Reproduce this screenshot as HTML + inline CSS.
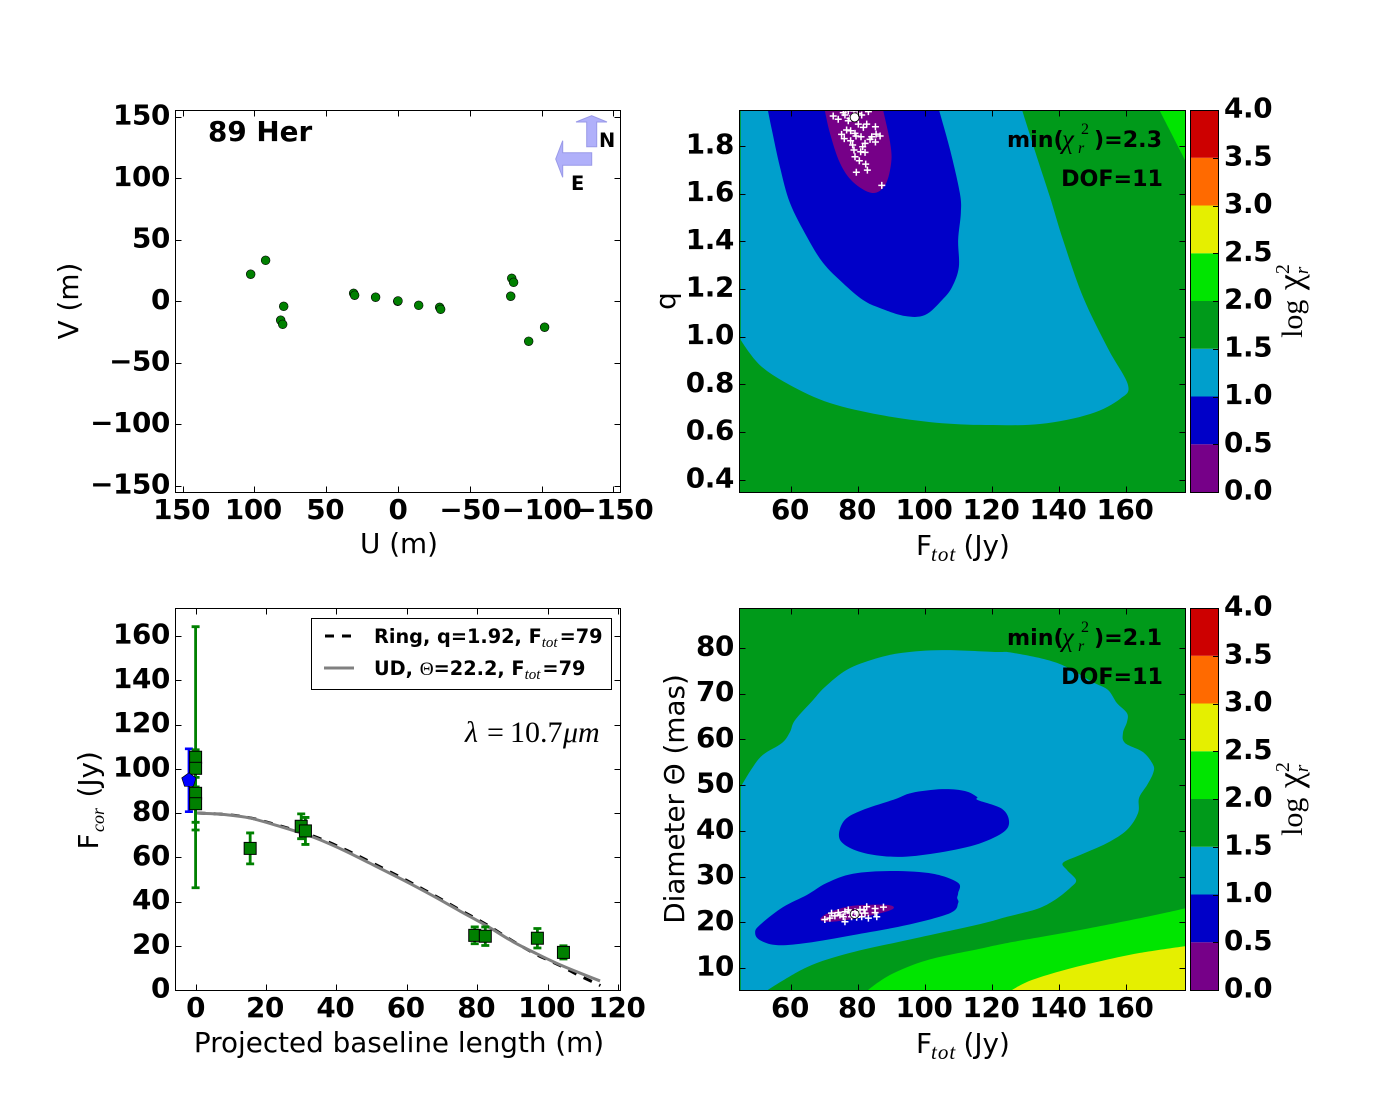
<!DOCTYPE html>
<html lang="en">
<head>
<meta charset="utf-8">
<title>89 Her interferometry chart</title>
<style>
html,body{margin:0;padding:0;background:#fff;}
svg{display:block;}
text{font-family:"DejaVu Sans","Liberation Sans",sans-serif;fill:#000;}
.tick{font-weight:bold;font-size:27.8px;letter-spacing:-0.35px;}
.lab{font-size:27.8px;}
.sub{font-family:"Liberation Serif","DejaVu Serif",serif;font-style:italic;font-size:21px;letter-spacing:1px;}
.subc{font-family:"Liberation Serif","DejaVu Serif",serif;font-style:italic;font-size:18px;}
.ann{font-weight:bold;font-size:22.2px;}
.serif{font-family:"Liberation Serif","DejaVu Serif",serif;}
.leg{font-weight:bold;font-size:19.3px;}
.legsub{font-family:"Liberation Serif","DejaVu Serif",serif;font-style:italic;font-weight:normal;font-size:15px;}
</style>
</head>
<body>
<svg xmlns="http://www.w3.org/2000/svg" width="1400" height="1100" viewBox="0 0 1400 1100">
<defs>
<clipPath id="clip-uv"><rect x="176" y="111" width="444" height="381"/></clipPath>
<clipPath id="clip-q"><rect x="740" y="111" width="445" height="381"/></clipPath>
<clipPath id="clip-flux"><rect x="176" y="609" width="444" height="381"/></clipPath>
<clipPath id="clip-d"><rect x="740" y="609" width="445" height="381"/></clipPath>
</defs>
<rect x="0" y="0" width="1400" height="1100" fill="#fff"/>

<!-- UV panel -->
<g>
  <rect x="175.5" y="110.5" width="445" height="382" fill="#fff"/>
  <g id="uv-marks" clip-path="url(#clip-uv)"></g>
  <rect x="175.5" y="110.5" width="445" height="382" fill="none" stroke="#000" stroke-width="1"/>
  <g id="uv-ticks"></g>
  <text x="208" y="141" class="tick" style="letter-spacing:0">89 Her</text>
  <polygon points="591.7,115.7 607,122 596.7,122 596.7,146.7 586.7,146.7 586.7,122 576,122" fill="#b0b0fa" stroke="#9a9ae8" stroke-width="1"/>
  <polygon points="555.7,159 562.7,140.7 562.7,152.7 591.7,152.7 591.7,165.3 562.7,165.3 562.7,177.3" fill="#b0b0fa" stroke="#9a9ae8" stroke-width="1"/>
  <text x="599" y="147" font-weight="bold" font-size="19.4">N</text>
  <text x="571" y="190" font-weight="bold" font-size="19.4">E</text>
  <text x="399" y="553" text-anchor="middle" class="lab">U (m)</text>
  <text transform="translate(78,301) rotate(-90)" text-anchor="middle" class="lab">V (m)</text>
</g>

<!-- Ring chi2 map -->
<g>
  <rect x="740" y="111" width="445" height="381" fill="#009a1a"/>
  <g id="q-marks" clip-path="url(#clip-q)"></g>
  <rect x="739.5" y="110.5" width="446" height="382" fill="none" stroke="#000" stroke-width="1"/>
  <g id="q-ticks"></g>
  <g id="cb1"></g>
  <g>
    <text x="1007" y="147" class="ann">min(</text>
    <text x="1062" y="148" class="serif" font-style="italic" font-size="27">χ</text>
    <text x="1078" y="153" class="serif" font-style="italic" font-size="16">r</text>
    <text x="1081" y="134" class="serif" font-size="16">2</text>
    <text x="1094" y="147" class="ann">)=2.3</text>
  </g>
  <text x="1163" y="186" text-anchor="end" class="ann">DOF=11</text>
  <text x="916" y="555" class="lab">F<tspan x="931" y="561" class="sub">tot</tspan><tspan x="963.5" y="555">(Jy)</tspan></text>
  <text transform="translate(675,301) rotate(-90)" text-anchor="middle" class="lab">q</text>
  <text transform="translate(1302,301) rotate(-90)" text-anchor="middle" class="serif" font-size="30">log <tspan font-size="36" dx="2">χ</tspan><tspan font-size="20" dy="-13">2</tspan><tspan font-size="19" font-style="italic" dy="19" dx="-10">r</tspan></text>
</g>

<!-- Flux panel -->
<g>
  <rect x="175.5" y="608.5" width="445" height="382" fill="#fff"/>
  <g id="flux-marks" clip-path="url(#clip-flux)"></g>
  <rect x="175.5" y="608.5" width="445" height="382" fill="none" stroke="#000" stroke-width="1"/>
  <g id="flux-ticks"></g>
  <g>
    <rect x="311.5" y="618.5" width="300" height="71" fill="#fff" stroke="#000" stroke-width="1"/>
    <line x1="325" y1="636" x2="351" y2="636" stroke="#000" stroke-width="3" stroke-dasharray="9 8"/>
    <line x1="324" y1="668" x2="354" y2="668" stroke="#808080" stroke-width="3"/>
    <text x="374" y="643" class="leg">Ring, q=1.92, F<tspan class="legsub" dy="4">tot</tspan><tspan dy="-4" dx="2">=79</tspan></text>
    <text x="374" y="675" class="leg">UD, <tspan font-weight="normal" class="serif">Θ</tspan>=22.2, F<tspan class="legsub" dy="4">tot</tspan><tspan dy="-4" dx="2">=79</tspan></text>
  </g>
  <text y="742" class="serif" font-size="30"><tspan x="465" font-style="italic">λ</tspan><tspan x="487">=</tspan><tspan x="510">10.7</tspan><tspan x="563" font-style="italic">μm</tspan></text>
  <text x="399" y="1052" text-anchor="middle" class="lab">Projected baseline length (m)</text>
  <text transform="translate(98,800) rotate(-90)" class="lab"><tspan x="-49.5" y="0">F</tspan><tspan x="-32" y="6" class="subc">cor</tspan><tspan x="2.5" y="0">(Jy)</tspan></text>
</g>

<!-- UD chi2 map -->
<g>
  <rect x="740" y="609" width="445" height="381" fill="#009a1a"/>
  <g id="d-marks" clip-path="url(#clip-d)"></g>
  <rect x="739.5" y="608.5" width="446" height="382" fill="none" stroke="#000" stroke-width="1"/>
  <g id="d-ticks"></g>
  <g id="cb2"></g>
  <g>
    <text x="1007" y="645" class="ann">min(</text>
    <text x="1062" y="646" class="serif" font-style="italic" font-size="27">χ</text>
    <text x="1078" y="651" class="serif" font-style="italic" font-size="16">r</text>
    <text x="1081" y="632" class="serif" font-size="16">2</text>
    <text x="1094" y="645" class="ann">)=2.1</text>
  </g>
  <text x="1163" y="684" text-anchor="end" class="ann">DOF=11</text>
  <text x="916" y="1053" class="lab">F<tspan x="931" y="1059" class="sub">tot</tspan><tspan x="963.5" y="1053">(Jy)</tspan></text>
  <text transform="translate(684,799) rotate(-90)" text-anchor="middle" class="lab">Diameter Θ (mas)</text>
  <text transform="translate(1302,799) rotate(-90)" text-anchor="middle" class="serif" font-size="30">log <tspan font-size="36" dx="2">χ</tspan><tspan font-size="20" dy="-13">2</tspan><tspan font-size="19" font-style="italic" dy="19" dx="-10">r</tspan></text>
</g>
</svg>

<script>
// ---------- data ----------
const uvU = [102.6,92.2,79.6,81.7,80.3,30.9,30.2,15.6,0.2,0,-14.4,-29,-29.7,-79.2,-80.5,-78.5,-91,-102.1];
const uvV = [22,33.3,-4.1,-15.4,-18.7,6.5,4.9,3.3,0,0.3,-3.3,-4.9,-6.5,18.7,15.4,4.1,-32.5,-21.1];
const uvTicksX = [150,100,50,0,-50,-100,-150];
const uvTicksY = [150,100,50,0,-50,-100,-150];

const fluxBaseline = [0,0,0,0,15.5,30,31.2,79.3,82.3,97.1,104.5];
const fluxValue = [105.2,100.2,88.9,84.2,64,74,71.9,24.7,24.3,23.4,17];
const fluxError = [59,8.4,13.1,11.9,7,5.6,6.1,3.8,4.2,4.4,3];
const totalBaseline = [-1.9];
const totalFlux = [94.8];
const totalError = [14.2];
const ringB = [0.3,8.8,15.5,24,33.4,41.9,49.5,60.1,67.5,75.1,82.8,90.2,97,100.1,104.4,108.6,112.9,115];
const ringF = [80,79.3,77.8,74.2,69.6,63.9,58,49.4,43,36.2,29.4,22,15.9,13.6,10.4,6.8,3.6,2];
const udB = [0.3,8.8,15.5,24,33.4,41.9,49.5,60.1,67.5,75.1,82.8,90.2,97,104.4,114.9];
const udF = [80,79.2,77.7,73.9,69.1,63.3,57.3,48.8,42.5,35.7,28.9,21.8,16.3,10.8,4.1];
const fluxTicksX = [0,20,40,60,80,100,120];
const fluxTicksY = [0,20,40,60,80,100,120,140,160];

const ftotTicks = [60,80,100,120,140,160];
const qTicks = [0.4,0.6,0.8,1.0,1.2,1.4,1.6,1.8];
const diamTicks = [10,20,30,40,50,60,70,80];

const colorLevels = [0,0.5,1,1.5,2,2.5,3,3.5,4];
const colorBands = ['#760088','#0000c8','#009fcc','#009a1a','#00e500','#e5ef00','#ff6a00','#cd0000'];

// plot limits of the two maps
const ftotLimits = [45,178];
const qLimits = [0.35,1.95];
const diamLimits = [5.2,88.7];

// contour outlines: [Ftot, q]
const qLevel1 = [[45,0.986],[50.7,0.881],[59.7,0.797],[71.6,0.722],[86.6,0.672],[101.5,0.642],[116.4,0.63],[134.3,0.634],[149.3,0.676],[158.2,0.739],[160.6,0.797],[154.6,0.951],[147.2,1.166],[141.2,1.406],[137.3,1.586],[133.4,1.754],[129,1.95],[45,1.95]];
const qLevel05 = [[53.1,1.95],[54.3,1.867],[56.7,1.712],[59.7,1.561],[64.8,1.418],[69.6,1.309],[75.5,1.225],[81.5,1.154],[86.6,1.12],[94,1.087],[100,1.091],[105.1,1.154],[108.1,1.209],[110.1,1.292],[109.9,1.406],[110.7,1.519],[110.4,1.603],[107.5,1.783],[104.2,1.95]];
const qLevel0 = [[70.1,1.95],[71.6,1.855],[74.6,1.729],[78.5,1.649],[84.2,1.603],[88.1,1.636],[89.9,1.729],[89.6,1.813],[87.5,1.95]];
const qLevel2 = [[170,1.95],[178,1.95],[178,1.73]];
const qSampleF = [72.6,74.1,75.6,76.1,77.1,77.6,78.8,81.1,83.1,80.1,81.6,82.6,85.2,76.6,77.8,79.1,79.4,75.1,75.9,77.8,80.9,84.1,85.4,86.6,85.2,83.6,82.1,81.4,78.4,78.8,82.1,80.8,79.1,80.4,82.3,82.8,79.5,87.1,77.1,80.1];
const qSampleQ = [1.926,1.912,1.94,1.93,1.906,1.916,1.947,1.93,1.944,1.892,1.878,1.892,1.881,1.867,1.864,1.853,1.842,1.849,1.831,1.822,1.839,1.839,1.85,1.842,1.817,1.828,1.811,1.797,1.804,1.783,1.773,1.776,1.755,1.738,1.724,1.699,1.69,1.635,1.948,1.937];
const qBest = [79,1.92];

// contour outlines: [Ftot, diameter]
const dLevel1 = [[45,49.6],[48.4,53.7],[51.6,56.6],[57.3,59.2],[59.7,61.6],[61.2,64.2],[66.6,68.6],[70.1,71.4],[76.7,75.2],[85.1,77.6],[93.1,78.9],[105.1,79.5],[120.9,79.1],[126.3,78.9],[139.4,76.7],[150.1,72.5],[154.6,70.8],[157.3,67.9],[160.3,65.7],[160.3,63.8],[159.1,61.4],[159.7,59.2],[165.1,57.2],[168.1,54.4],[168.1,52.6],[166.3,50],[163.9,47.2],[163.6,43.9],[160.3,40.2],[154.3,37.3],[146.3,34.7],[141.2,33],[142.4,31.4],[145.1,29.2],[143.3,27.5],[138.8,24.9],[133.4,22.9],[124.5,21.2],[116.4,19.6],[94.6,16.1],[77.6,13.3],[64.8,10.2],[53.1,5.2],[45,5.2]];
const dLevel2 = [[83,5.2],[89.6,8.5],[100.6,11.7],[116.4,14.2],[126.3,15.7],[146.3,18.3],[166.3,21.2],[178,23.1],[178,5.2]];
const dLevel25 = [[126,5.2],[131.3,7.2],[140.3,9.3],[151.3,11.3],[164.2,13.3],[178,14.8],[178,5.2]];
const dIslandUpper = [[74.3,39.1],[76.1,42.4],[81.2,44.5],[91,46.9],[96.1,48.3],[105.1,49.1],[111.9,48.7],[115.5,47.4],[115.8,46.7],[123,44.8],[125.1,41.9],[123,39.5],[114.9,36.9],[103,35.1],[91.9,34.3],[82.1,35.1],[76.1,36.9]];
const dIslandLower = [[49.3,17.7],[50.7,19.4],[57.6,23.3],[64.8,26],[70.7,28.6],[78.5,30.6],[90.4,31.2],[102.4,30.6],[109.9,28.6],[109.9,26.4],[109.6,25.3],[109.9,24.2],[107.5,22],[94.6,19.4],[78.5,17.2],[64.8,15.5],[55.8,15],[50.7,16.1]];
const dLevel0 = [[68.7,20.7],[71.6,22.2],[78.5,23.6],[88.7,23.8],[90.4,22.9],[84.5,21.6],[76.7,20.5],[70.7,20.1]];
const dSampleF = [70.1,72.1,73.1,74.6,76.1,76.1,78.1,80.1,81.1,82.6,83.1,85.1,85.6,87.6,81.8,79.1,71.6,74.1,77.6,79.6,82.1,85.1,77.1,80.6,75.6];
const dSampleD = [20.6,22,21.4,21.6,22.3,20.1,21.2,22,21.2,23.4,20.9,23,21.2,23.3,22.7,22.3,20.9,22.1,22,21.1,22,22.1,22.7,22.8,21.2];
const dBest = [79,21.8];

// ---------- axis functions ----------
const xU = u => 398 - u * 1.436;
const yV = v => 301.3 - v * 1.23;
const xB = b => 195.6 + b * 3.52;
const yF = f => 990 - f * 2.2125;
const xFtot = f => 791 + (f - 60) * 3.35;
const yQ = q => 146 + (1.8 - q) * 238.4;
const yD = d => 968 - (d - 10) * 4.574;
const yCb1 = c => 492 - c * 95.5;
const yCb2 = c => 990 - c * 95.5;

// ---------- helpers ----------
const NS = 'http://www.w3.org/2000/svg';
function make(tag, props, parent, text) {
  const n = document.createElementNS(NS, tag);
  for (const k in props) n.setAttribute(k, props[k]);
  if (text !== undefined) n.textContent = text;
  parent.appendChild(n);
  return n;
}
// Smooth path through data points; points on a plot limit keep a sharp corner.
function curvePath(pairs, fx, fy, closed, yLim) {
  const n = pairs.length;
  const P = pairs.map(p => [fx(p[0]), fy(p[1])]);
  const sharp = pairs.map(p => yLim && (p[0] <= ftotLimits[0] || p[0] >= ftotLimits[1] || p[1] <= yLim[0] || p[1] >= yLim[1]));
  const T = P.map((p, i) => {
    if (sharp[i]) return [0, 0];
    if (!closed && (i === 0 || i === n - 1)) return [0, 0];
    const a = P[(i - 1 + n) % n], b = P[(i + 1) % n];
    return [(b[0] - a[0]) / 6, (b[1] - a[1]) / 6];
  });
  let d = 'M' + P[0][0].toFixed(2) + ' ' + P[0][1].toFixed(2);
  const segs = closed ? n : n - 1;
  for (let i = 0; i < segs; i++) {
    const j = (i + 1) % n;
    d += 'C' + (P[i][0] + T[i][0]).toFixed(2) + ' ' + (P[i][1] + T[i][1]).toFixed(2) + ' ' +
      (P[j][0] - T[j][0]).toFixed(2) + ' ' + (P[j][1] - T[j][1]).toFixed(2) + ' ' +
      P[j][0].toFixed(2) + ' ' + P[j][1].toFixed(2);
  }
  return d + (closed ? 'Z' : '');
}
function fmt(v) {
  return v < 0 ? '\u2212' + Math.abs(v) : String(v);
}
function drawAxisTicks(group, left, right, top, bottom, xVals, xf, yVals, yf, yFmt, xBase) {
  xVals.forEach(v => {
    const px = Math.round(xf(v)) + 0.5;
    const t1 = make('line', {x1: px, x2: px, y1: top, y2: top + 5.5, stroke: '#000'}, group);
    
    
    const t2 = make('line', {x1: px, x2: px, y1: bottom, y2: bottom - 5.5, stroke: '#000'}, group);
    
    
    const lab = make('text', {x: xf(v) - (v > 0 ? 1 : 0), y: xBase, 'text-anchor': 'middle', class: 'tick'}, group, fmt(v));
    
    
  });
  yVals.forEach(v => {
    const py = Math.round(yf(v)) + 0.5;
    const t1 = make('line', {x1: left, x2: left + 5.5, y1: py, y2: py, stroke: '#000'}, group);
    
    
    const t2 = make('line', {x1: right, x2: right - 5.5, y1: py, y2: py, stroke: '#000'}, group);
    
    
    const lab = make('text', {x: left - 6, y: yf(v) + 7.5, 'text-anchor': 'end', class: 'tick'}, group, yFmt(v));
    
    
  });
}
function drawColorbar(group, yf) {
  colorBands.forEach((c, i) => {
    const yTop = yf(colorLevels[i + 1]);
    const yBot = yf(colorLevels[i]);
    const r = make('rect', {x: 1190.5, y: yTop, width: 28, height: yBot - yTop, fill: c}, group);
    
    
  });
  const frame = make('rect', {x: 1190.5, y: yf(4) + 0.5, width: 28, height: yf(0) - yf(4), fill: 'none', stroke: '#000'}, group);
  
  
  colorLevels.forEach(v => {
    const py = Math.round(yf(v)) + 0.5;
    const t = make('line', {x1: 1218, x2: 1213, y1: py, y2: py, stroke: '#000'}, group);
    
    
    const lab = make('text', {x: 1224, y: yf(v) + 7.5, class: 'tick'}, group, v.toFixed(1));
    
    
  });
}
function drawSamples(group, fs, vs, fx, fy) {
  fs.forEach((f, i) => {
    const cx = fx(f), cy = fy(vs[i]);
    const p = make('path', {d: 'M' + (cx - 3.5) + ' ' + cy + 'H' + (cx + 3.5) + 'M' + cx + ' ' + (cy - 3.5) + 'V' + (cy + 3.5), stroke: '#fff', 'stroke-width': 1.5, fill: 'none'}, group);
    
    
  });
}

// ---------- UV panel ----------
const uvMarks = document.getElementById('uv-marks');
uvU.forEach((u, i) => {
  const c = make('circle', {cx: xU(u), cy: yV(uvV[i]), r: 4.4, fill: '#008000', stroke: '#000', 'stroke-width': 0.6}, uvMarks);
  
  
});
drawAxisTicks(document.getElementById('uv-ticks'), 176, 620, 111, 492, uvTicksX, xU, uvTicksY, yV, fmt, 519);

// ---------- Ring map ----------
const qMarks = document.getElementById('q-marks');
const qL2 = make('path', {d: curvePath(qLevel2, xFtot, yQ, true, qLimits), fill: colorBands[4]}, qMarks);


const qL1 = make('path', {d: curvePath(qLevel1, xFtot, yQ, true, qLimits), fill: colorBands[2]}, qMarks);


const qL05 = make('path', {d: curvePath(qLevel05, xFtot, yQ, true, qLimits), fill: colorBands[1]}, qMarks);


const qL0 = make('path', {d: curvePath(qLevel0, xFtot, yQ, true, qLimits), fill: colorBands[0]}, qMarks);


drawSamples(qMarks, qSampleF, qSampleQ, xFtot, yQ);
const qBestMark = make('circle', {cx: xFtot(qBest[0]), cy: yQ(qBest[1]), r: 4.5, fill: '#fff', stroke: '#000', 'stroke-width': 0.8}, qMarks);


drawAxisTicks(document.getElementById('q-ticks'), 740, 1185, 111, 492, ftotTicks, xFtot, qTicks, yQ, v => v.toFixed(1), 519);
drawColorbar(document.getElementById('cb1'), yCb1);

// ---------- Flux panel ----------
const fluxMarks = document.getElementById('flux-marks');
const ringLine = make('path', {d: curvePath(ringB.map((b, i) => [b, ringF[i]]), xB, yF, false, null), fill: 'none', stroke: '#000', 'stroke-width': 3, 'stroke-dasharray': '9 8'}, fluxMarks);


const udLine = make('path', {d: curvePath(udB.map((b, i) => [b, udF[i]]), xB, yF, false, null), fill: 'none', stroke: '#808080', 'stroke-width': 3}, fluxMarks);


function errorBar(b, f, e, color, width) {
  const x = xB(b);
  const d = 'M' + x + ' ' + yF(f + e) + 'V' + yF(f - e) +
    'M' + (x - 4) + ' ' + yF(f + e) + 'H' + (x + 4) +
    'M' + (x - 4) + ' ' + yF(f - e) + 'H' + (x + 4);
  const p = make('path', {d: d, fill: 'none', stroke: color, 'stroke-width': width}, fluxMarks);
  
  
}
errorBar(totalBaseline[0], totalFlux[0], totalError[0], '#0000ff', 2.6);
fluxBaseline.forEach((b, i) => errorBar(b, fluxValue[i], fluxError[i], '#008000', 2.8));
fluxBaseline.forEach((b, i) => {
  const r = make('rect', {x: xB(b) - 6, y: yF(fluxValue[i]) - 6, width: 12, height: 12, fill: '#008000', stroke: '#000', 'stroke-width': 1}, fluxMarks);
  
  
});
totalBaseline.forEach((b, i) => {
  const cx = xB(b), cy = yF(totalFlux[i]);
  const corners = [0, 1, 2, 3, 4].map(k => {
    const a = -Math.PI / 2 + k * 2 * Math.PI / 5;
    return (cx + 7.5 * Math.cos(a)).toFixed(2) + ',' + (cy + 7.5 * Math.sin(a)).toFixed(2);
  }).join(' ');
  const pg = make('polygon', {points: corners, fill: '#0000ff', stroke: '#000', 'stroke-width': 0.7}, fluxMarks);
  
  
});
drawAxisTicks(document.getElementById('flux-ticks'), 176, 620, 609, 990, fluxTicksX, xB, fluxTicksY, yF, fmt, 1017);

// ---------- UD map ----------
const dMarks = document.getElementById('d-marks');
const dL1 = make('path', {d: curvePath(dLevel1, xFtot, yD, true, diamLimits), fill: colorBands[2]}, dMarks);


const dL2 = make('path', {d: curvePath(dLevel2, xFtot, yD, true, diamLimits), fill: colorBands[4]}, dMarks);


const dL25 = make('path', {d: curvePath(dLevel25, xFtot, yD, true, diamLimits), fill: colorBands[5]}, dMarks);


const dIU = make('path', {d: curvePath(dIslandUpper, xFtot, yD, true, diamLimits), fill: colorBands[1]}, dMarks);


const dIL = make('path', {d: curvePath(dIslandLower, xFtot, yD, true, diamLimits), fill: colorBands[1]}, dMarks);


const dL0 = make('path', {d: curvePath(dLevel0, xFtot, yD, true, diamLimits), fill: colorBands[0]}, dMarks);


drawSamples(dMarks, dSampleF, dSampleD, xFtot, yD);
const dBestMark = make('circle', {cx: xFtot(dBest[0]), cy: yD(dBest[1]), r: 4.5, fill: 'none', stroke: '#000', 'stroke-width': 0.8}, dMarks);


drawAxisTicks(document.getElementById('d-ticks'), 740, 1185, 609, 990, ftotTicks, xFtot, diamTicks, yD, fmt, 1017);
drawColorbar(document.getElementById('cb2'), yCb2);
</script>
</body>
</html>
